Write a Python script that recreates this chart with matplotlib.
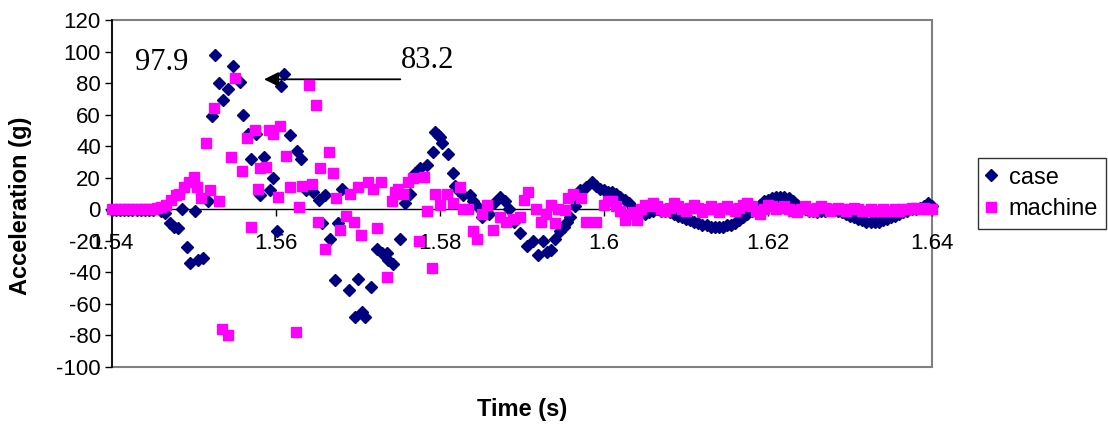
import numpy as np
import matplotlib
matplotlib.use('Agg')
import matplotlib.pyplot as plt
from matplotlib.patches import Rectangle

plt.rcParams['font.family'] = ['Liberation Sans', 'DejaVu Sans']
plt.rcParams['axes.unicode_minus'] = False

# flat part before the impact (same sample grid for both series)
start_time = np.round(np.arange(1.5400, 1.54501, 0.0005), 4)
case_start = [-0.5, -0.5, -0.5, -0.5, -0.5, -0.5, -0.5, -0.5, -0.5, -0.5, -0.5]
machine_start = [0.4, 0.4, 0.4, 0.4, 0.4, 0.4, 0.4, 0.4, 0.4, 0.4, 0.4]

# impact region, read point by point
case_time = [1.5460, 1.5465, 1.5471, 1.5475, 1.5481, 1.5485, 1.5491, 1.5495, 1.5501, 1.5505,
             1.5511, 1.5517, 1.5522, 1.5526, 1.5530, 1.5535, 1.5541, 1.5547, 1.5556, 1.5560,
             1.5566, 1.5570, 1.5576, 1.5580, 1.5585, 1.5593, 1.5596, 1.5601, 1.5606, 1.5610,
             1.5617, 1.5626, 1.5630, 1.5636, 1.5645, 1.5652, 1.5656, 1.5660, 1.5666, 1.5672,
             1.5676, 1.5680, 1.5689, 1.5696, 1.5700, 1.5705, 1.5709, 1.5716, 1.5723, 1.5729,
             1.5735, 1.5737, 1.5743, 1.5751, 1.5757, 1.5763, 1.5770, 1.5776, 1.5784, 1.5792,
             1.5794, 1.5797, 1.5800, 1.5803, 1.5810, 1.5816, 1.5818, 1.5822, 1.5828, 1.5836,
             1.5840, 1.5845, 1.5851, 1.5860, 1.5866, 1.5873, 1.5879, 1.5884, 1.5890, 1.5898,
             1.5906, 1.5914, 1.5920, 1.5926, 1.5930, 1.5935, 1.5940, 1.5946, 1.5951, 1.5955,
             1.5959, 1.5965, 1.5971, 1.5978, 1.5985, 1.5990, 1.5995]
case_acc = [-1, -2.5, -9, -11, -12, 0, -24, -34, -1, -32,
            -31, 5, 59, 97.9, 80, 69, 76, 91, 81, 60,
            48, 32, 48, 9, 33, 12, 20, -14, 78, 86,
            47, 37, 32, 12, 11, 6, -9, 9, -19, -45,
            -9, 13, -51, -68, -44, -65, -68, -49, -25, -28,
            -28, -32, -35, -19, 4, 10, 23, 26, 28, 36,
            49, 47, 46, 42, 35, 23, 15, 12, 9, 9,
            5, 2, -5, -3, 4, 8, 5, 0, -8, -15,
            -23, -20, -29, -20, -27, -26, -19, -14, -11, -8,
            -5, 2, 12, 14, 17, 15, 13]

machine_time = [1.5455, 1.5460, 1.5466, 1.5472, 1.5478, 1.5482, 1.5488, 1.5494, 1.5500, 1.5504,
                1.5508, 1.5515, 1.5520, 1.5525, 1.5530, 1.5534, 1.5541, 1.5545, 1.5550, 1.5558,
                1.5565, 1.5570, 1.5574, 1.5578, 1.5580, 1.5588, 1.5592, 1.5596, 1.5602, 1.5605,
                1.5612, 1.5617, 1.5625, 1.5628, 1.5632, 1.5640, 1.5644, 1.5649, 1.5651, 1.5654,
                1.5660, 1.5665, 1.5669, 1.5673, 1.5678, 1.5685, 1.5690, 1.5695, 1.5700, 1.5704,
                1.5712, 1.5718, 1.5723, 1.5728, 1.5735, 1.5741, 1.5745, 1.5749, 1.5755, 1.5761,
                1.5767, 1.5774, 1.5780, 1.5784, 1.5790, 1.5794, 1.5800, 1.5808, 1.5816, 1.5824,
                1.5828, 1.5834, 1.5840, 1.5845, 1.5851, 1.5857, 1.5865, 1.5873, 1.5881, 1.5889,
                1.5897, 1.5903, 1.5907, 1.5917, 1.5923, 1.5929, 1.5935, 1.5940, 1.5944, 1.5952,
                1.5956, 1.5962, 1.5972, 1.5978, 1.5990]
machine_acc = [1, 1.5, 2.5, 5.7, 9, 10, 14, 17, 20.5, 14,
               7, 42, 12, 64, 5, -76, -80, 33, 83.2, 24,
               45, -11, 50, 13, 26, 27, 50, 48, 8, 53,
               34, 14, -78, 1.5, 15, 79, 16, 66, -8, 26,
               -25, 36, 23, 7, -13, -4, 10, -8, 14, -16.5,
               17, 13, -12, 17, -43, 5, 11, 13, 10, 17,
               20, -20, 20.5, -1, -37, 10, 2.5, 10, 4, 14,
               0, 0, -14, -19, -3, 2.5, -13, -5, -8, -6,
               -5, 6, 11, 0, -8, -3, 2.5, -9, 0.4, -0.6,
               7, 10, 7, -8, -8]

# decaying tail, same sample grid for both series
tail_time = np.round(np.arange(1.6000, 1.64001, 0.0005), 4)
case_tail = [12, 11, 11, 10, 8, 6, 4, 1, -1, -2,
             -3, -2, -1, 0, -1, -1, -2, -3, -4, -5,
             -6, -7, -8, -9, -10, -10, -11, -11, -11, -11,
             -10, -10, -9, -7, -5, -3, -1, 1, 3, 5,
             6, 7, 8, 8, 8, 7, 5, 3, 1, 0,
             -1, -1, -2, -1, -1, 0, 0, -1, -2, -3,
             -4, -5, -6, -7, -8, -8, -8, -8, -7, -6,
             -5, -4, -3, -2, -1, 0, 0, 1, 2, 4,
             2]
machine_tail = [3, 5, 5, 2, -1, -7, -3, -2, -7, 0,
                3, 2, 4, 2, 0, -1, 1, 4, 2, 0,
                -1, 1, 3, 1, -2, 0, 2, 0, -2, 1,
                2, 0, -1, 1, 3, 4, 2, -1, -3, 0,
                3, 2, 0, 1, 2, 0, -1, -2, 0, 2,
                0, -1, 1, 2, 1, -1, 0, 1, 0, -1,
                0, 1, 0, -1, -1, 0, -1, -1, 0, -1,
                -1, 0, -1, 0, 0, 1, 1, 0, 1, 0,
                0]

case_t = np.concatenate([start_time, case_time, tail_time])
case_a = np.concatenate([case_start, case_acc, case_tail])
machine_t = np.concatenate([start_time, machine_time, tail_time])
machine_a = np.concatenate([machine_start, machine_acc, machine_tail])

fig = plt.figure(figsize=(11.08, 4.25), dpi=100)
ax = fig.add_axes([112 / 1108, 58 / 425, 820 / 1108, 347 / 425])

ax.plot(case_t, case_a, linestyle='none', marker='D', markersize=6.2,
        color='#000080', label='case', clip_on=False, zorder=3)
ax.plot(machine_t, machine_a, linestyle='none', marker='s', markersize=6.6,
        color='#FF00FF', label='machine', clip_on=False, zorder=4)

ax.set_xlim(1.54, 1.64)
ax.set_ylim(-100, 120)
ax.set_xticks([1.54, 1.56, 1.58, 1.6, 1.62, 1.64])
ax.set_xticklabels(['1.54', '1.56', '1.58', '1.6', '1.62', '1.64'])
ax.set_yticks(range(-100, 121, 20))

# Excel style: x axis crosses at zero, grey plot-area frame
ax.spines['bottom'].set_position(('data', 0))
ax.spines['top'].set_visible(False)
ax.spines['right'].set_visible(False)
ax.spines['left'].set_linewidth(1.2)
ax.spines['bottom'].set_linewidth(1.0)
ax.add_patch(Rectangle((0, 0), 1, 1, transform=ax.transAxes, fill=False,
                       edgecolor='#808080', linewidth=1.5, zorder=0, clip_on=False))
ax.tick_params(axis='both', direction='out', length=5, width=1, labelsize=16)
ax.tick_params(axis='x', pad=12)
ax.tick_params(axis='y', pad=3)

ax.set_xlabel('Time (s)', fontsize=17, fontweight='bold', labelpad=0)
ax.xaxis.set_label_coords(0.5, -0.09)
ax.set_ylabel('Acceleration (g)', fontsize=17, fontweight='bold')
ax.yaxis.set_label_coords(-0.097, 0.465)

ax.text(1.5461, 93, '97.9', fontsize=22, family='Liberation Serif',
        ha='center', va='center')
ax.text(1.5785, 94.5, '83.2', fontsize=22, family='Liberation Serif',
        ha='center', va='center')
ax.annotate('', xy=(1.5582, 82.4), xytext=(1.5755, 82.4),
            arrowprops=dict(arrowstyle='-|>', color='black', lw=1.3,
                            mutation_scale=22))

leg = ax.legend(loc='center left', bbox_to_anchor=(1.056, 0.5), fontsize=17,
                frameon=True, fancybox=False, edgecolor='black',
                handlelength=0.45, handletextpad=0.5, borderpad=0.35,
                borderaxespad=0, labelspacing=0.42, markerscale=1.0)
leg.get_frame().set_linewidth(1.0)

fig.savefig('out.png', dpi=100)
